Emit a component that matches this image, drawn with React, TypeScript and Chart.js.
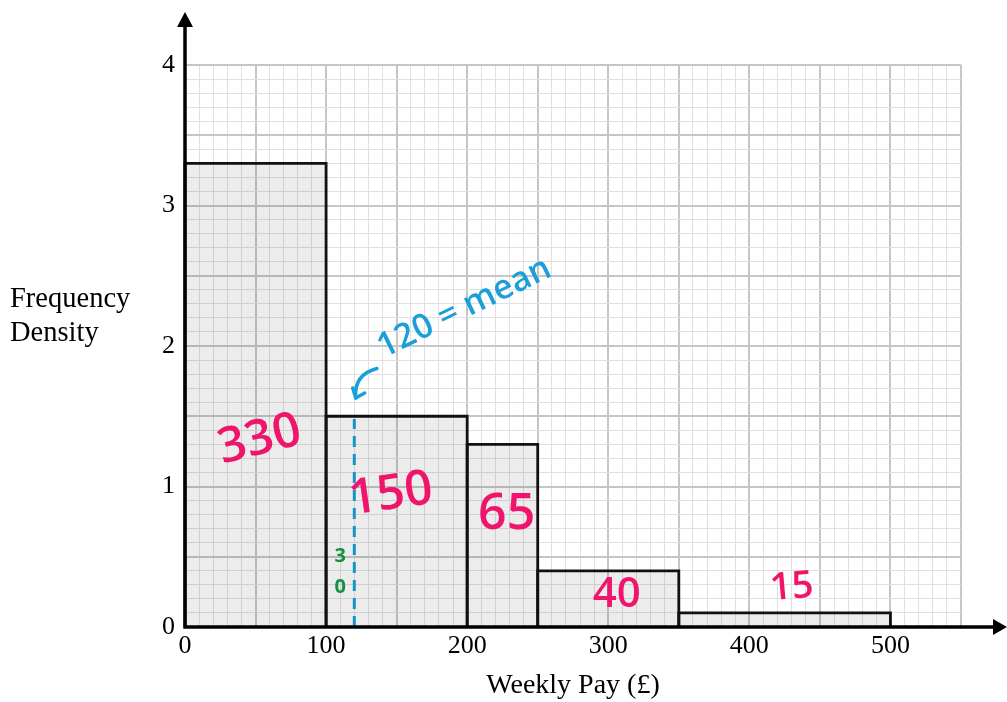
import React, { useEffect, useRef } from "react";
import { Chart, registerables } from "chart.js";

Chart.register(...registerables);

// ---- data ----
const classEdges = [0, 100, 200, 250, 350, 500];
const freqDensity = [3.3, 1.5, 1.3, 0.4, 0.1];
const xTickLabels = [0, 100, 200, 300, 400, 500];
const yTickLabels = [0, 1, 2, 3, 4];
const xMax = 550;
const yMax = 4;
const meanPay = 120;
const meanLineTop = 1.48;

// handwritten notes (pink frequencies)
const noteTexts = ["330", "150", "65", "40", "15"];
const noteX = [53, 146, 228, 306, 430];
const noteY = [1.33, 0.94, 0.8, 0.23, 0.28];
const noteAngle = [-14, -8, 0, 0, -5];
const noteSize = [49, 49, 50, 42, 38];

// green working
const greenTexts = ["3", "0"];
const greenX = [110, 110];
const greenY = [0.5, 0.28];

// blue mean note
const meanNoteText = "120 = mean";
const meanNoteX = 198;
const meanNoteY = 2.27;
const meanNoteAngle = -26;
const meanArrowFrom = [136, 1.84];
const meanArrowTo = [121, 1.63];

const PINK = "#f0146c";
const BLUE = "#1a9fd8";
const GREEN = "#17903f";
const SERIF = "'Liberation Serif', 'Times New Roman', serif";
const HAND = "'Open Sans', 'Noto Sans', sans-serif";

const binDatasets = freqDensity.map((h, i) => ({
  type: "line" as const,
  data: [
    { x: classEdges[i], y: 0 },
    { x: classEdges[i], y: h },
    { x: classEdges[i + 1], y: h },
    { x: classEdges[i + 1], y: 0 },
  ],
  borderColor: "#111",
  borderWidth: 2.8,
  backgroundColor: "rgba(0,0,0,0.075)",
  fill: "origin",
  pointRadius: 0,
  tension: 0,
  clip: false as any,
}));

const meanDataset = {
  type: "line" as const,
  data: [
    { x: meanPay, y: 0 },
    { x: meanPay, y: meanLineTop },
  ],
  borderColor: BLUE,
  borderWidth: 3,
  borderDash: [11, 7],
  fill: false,
  pointRadius: 0,
};

const decorPlugin = {
  id: "decor",
  afterDatasetsDraw(chart: any) {
    const { ctx, chartArea, scales } = chart;
    const xs = scales.x;
    const ys = scales.y;
    const left = chartArea.left;
    const bottom = chartArea.bottom;
    ctx.save();

    // axes with arrows
    ctx.strokeStyle = "#000";
    ctx.fillStyle = "#000";
    ctx.lineWidth = 3.5;
    ctx.beginPath();
    ctx.moveTo(left, bottom + 1.5);
    ctx.lineTo(left, 24);
    ctx.moveTo(left - 1.5, bottom);
    ctx.lineTo(chart.width - 12, bottom);
    ctx.stroke();
    ctx.beginPath();
    ctx.moveTo(left, 12);
    ctx.lineTo(left - 8, 27);
    ctx.lineTo(left + 8, 27);
    ctx.closePath();
    ctx.fill();
    ctx.beginPath();
    ctx.moveTo(chart.width, bottom);
    ctx.lineTo(chart.width - 14, bottom - 8);
    ctx.lineTo(chart.width - 14, bottom + 8);
    ctx.closePath();
    ctx.fill();

    // y axis label
    ctx.font = `28.5px ${SERIF}`;
    ctx.textAlign = "left";
    ctx.textBaseline = "alphabetic";
    ctx.fillText("Frequency", 10, 307);
    ctx.fillText("Density", 10, 341);

    // pink notes
    noteTexts.forEach((t, i) => {
      ctx.save();
      ctx.translate(xs.getPixelForValue(noteX[i]), ys.getPixelForValue(noteY[i]));
      ctx.rotate((noteAngle[i] * Math.PI) / 180);
      ctx.font = `600 ${noteSize[i]}px ${HAND}`;
      ctx.fillStyle = PINK;
      ctx.textAlign = "center";
      ctx.textBaseline = "middle";
      ctx.fillText(t, 0, 0);
      ctx.restore();
    });

    // green working
    greenTexts.forEach((t, i) => {
      ctx.font = `bold 20px ${HAND}`;
      ctx.fillStyle = GREEN;
      ctx.textAlign = "center";
      ctx.textBaseline = "middle";
      ctx.fillText(t, xs.getPixelForValue(greenX[i]), ys.getPixelForValue(greenY[i]));
    });

    // blue note
    ctx.save();
    ctx.translate(xs.getPixelForValue(meanNoteX), ys.getPixelForValue(meanNoteY));
    ctx.rotate((meanNoteAngle * Math.PI) / 180);
    ctx.font = `600 34px ${HAND}`;
    ctx.fillStyle = BLUE;
    ctx.textAlign = "center";
    ctx.textBaseline = "middle";
    ctx.fillText(meanNoteText, 0, 0);
    ctx.restore();

    // curved arrow
    const ax0 = xs.getPixelForValue(meanArrowFrom[0]);
    const ay0 = ys.getPixelForValue(meanArrowFrom[1]);
    const ax1 = xs.getPixelForValue(meanArrowTo[0]);
    const ay1 = ys.getPixelForValue(meanArrowTo[1]);
    ctx.strokeStyle = BLUE;
    ctx.lineWidth = 3.5;
    ctx.lineCap = "round";
    ctx.lineJoin = "round";
    ctx.beginPath();
    ctx.moveTo(ax0, ay0);
    ctx.quadraticCurveTo(ax1 - 2, ay0 + 6, ax1, ay1);
    ctx.stroke();
    ctx.beginPath();
    ctx.moveTo(ax1 - 3, ay1 - 10);
    ctx.lineTo(ax1, ay1);
    ctx.lineTo(ax1 + 9, ay1 - 5);
    ctx.stroke();

    ctx.restore();
  },
};

export default function App() {
  const ref = useRef<HTMLCanvasElement | null>(null);
  useEffect(() => {
    if (!ref.current) return;
    const chart = new Chart(ref.current, {
      type: "line",
      data: { datasets: [...binDatasets, meanDataset] as any },
      options: {
        animation: false,
        responsive: false,
        layout: { padding: { left: 0, right: 46, top: 65, bottom: 0 } },
        plugins: { legend: { display: false }, tooltip: { enabled: false } },
        scales: {
          x: {
            type: "linear",
            min: 0,
            max: xMax,
            border: { display: false },
            grid: {
              drawTicks: false,
              color: (c: any) => (c.tick && c.tick.value % 50 === 0 ? "#c6c6c6" : "#e0e0e0"),
              lineWidth: (c: any) => (c.tick && c.tick.value % 50 === 0 ? 2 : 1),
            },
            ticks: {
              stepSize: 10,
              autoSkip: false,
              maxRotation: 0,
              padding: 4,
              color: "#000",
              font: { family: SERIF, size: 26 },
              callback: (v: any) => (xTickLabels.includes(Math.round(v)) && Math.abs(v - Math.round(v)) < 1e-6 ? String(Math.round(v)) : ""),
            },
            title: {
              display: true,
              text: "Weekly Pay (£)",
              color: "#000",
              font: { family: SERIF, size: 28 },
              padding: { top: 0, bottom: 0 },
            },
            afterFit: (s: any) => {
              s.height = 75;
            },
          },
          y: {
            type: "linear",
            min: 0,
            max: yMax,
            border: { display: false },
            grid: {
              drawTicks: false,
              color: (c: any) => (c.tick && Math.round(c.tick.value * 10) % 5 === 0 ? "#c6c6c6" : "#e0e0e0"),
              lineWidth: (c: any) => (c.tick && Math.round(c.tick.value * 10) % 5 === 0 ? 2 : 1),
            },
            ticks: {
              stepSize: 0.1,
              autoSkip: false,
              padding: 10,
              color: "#000",
              font: { family: SERIF, size: 26 },
              callback: (v: any) => {
                const r = Math.round(v);
                return Math.abs(v - r) < 1e-6 && yTickLabels.includes(r) ? String(r) : "";
              },
            },
            afterFit: (s: any) => {
              s.width = 185;
            },
          },
        },
      },
      plugins: [decorPlugin],
    });
    return () => chart.destroy();
  }, []);
  return (
    <div style={{ position: "fixed", left: 0, top: 0, width: 1007, height: 702, background: "#fff" }}>
      <canvas ref={ref} width={1007} height={702} style={{ width: 1007, height: 702, display: "block" }} />
    </div>
  );
}
